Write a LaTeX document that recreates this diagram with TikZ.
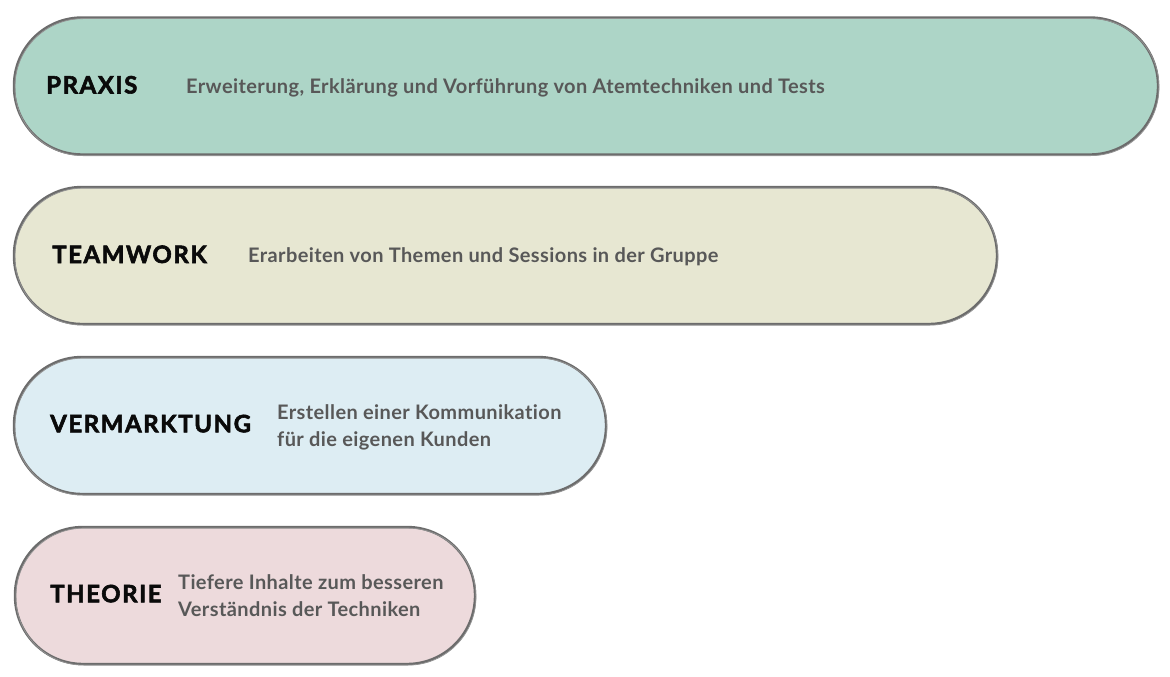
\documentclass[tikz,border=0pt]{standalone}
\usepackage{fontspec}
\setmainfont{Lato}[RawFeature=-liga]
\newfontfamily\titlefont{Lato}[RawFeature=-liga, LetterSpace=6.5, FakeBold=2.4]
\newfontfamily\descfont{Lato}[RawFeature=-liga, LetterSpace=2]
\definecolor{praxisfill}{RGB}{173,213,199}
\definecolor{teamfill}{RGB}{231,231,210}
\definecolor{vermfill}{RGB}{221,237,243}
\definecolor{theofill}{RGB}{237,218,220}
\definecolor{bordergray}{RGB}{108,108,108}
\definecolor{sketchgray}{RGB}{145,145,145}
\definecolor{desccol}{RGB}{88,88,88}
\definecolor{titlecol}{RGB}{10,10,10}
\begin{document}
\begin{tikzpicture}[x=1pt,y=-1pt,
  pill/.style={draw=bordergray, line width=2.4pt, rounded corners=68pt,
    minimum height=137pt, inner sep=0pt, outer sep=0pt,
    postaction={draw=sketchgray, line width=0.8pt,
      transform canvas={xshift=0.9pt,yshift=-1.1pt}}},
  title/.style={anchor=base west, inner sep=0pt, text=titlecol,
    font=\titlefont\fontsize{24}{24}\selectfont\bfseries},
  desc/.style={anchor=base west, inner sep=0pt, text=desccol,
    font=\descfont\fontsize{20}{27.5}\selectfont\bfseries}]
\useasboundingbox (0,0) rectangle (1170,677);
% pills
\node[pill, fill=praxisfill, minimum width=1144pt] (p1) at (586,86) {};
\node[pill, fill=teamfill, minimum width=983pt] (p2) at (505.5,255.5) {};
\node[pill, fill=vermfill, minimum width=592pt] (p3) at (310,425.5) {};
\node[pill, fill=theofill, minimum width=460pt] (p4) at (245,595.5) {};
% texts
\node[title] (t1) at (46,93.5) {PRAXIS};
\node[desc] (d1) at (186,93) {Erweiterung, Erklärung und Vorführung von Atemtechniken und Tests};
\node[title] (t2) at (52,263) {TEAMWORK};
\node[desc] (d2) at (248,262.5) {Erarbeiten von Themen und Sessions in der Gruppe};
\node[title] (t3) at (50,432.3) {VERMARKTUNG};
\node[desc] (d3a) at (277,419) {Erstellen einer Kommunikation};
\node[desc] (d3b) at (277,446.7) {für die eigenen Kunden};
\node[title] (t4) at (50,602.3) {THEORIE};
\node[desc] (d4a) at (178,589) {Tiefere Inhalte zum besseren};
\node[desc] (d4b) at (178,616.7) {Verständnis der Techniken};
\end{tikzpicture}
\end{document}
